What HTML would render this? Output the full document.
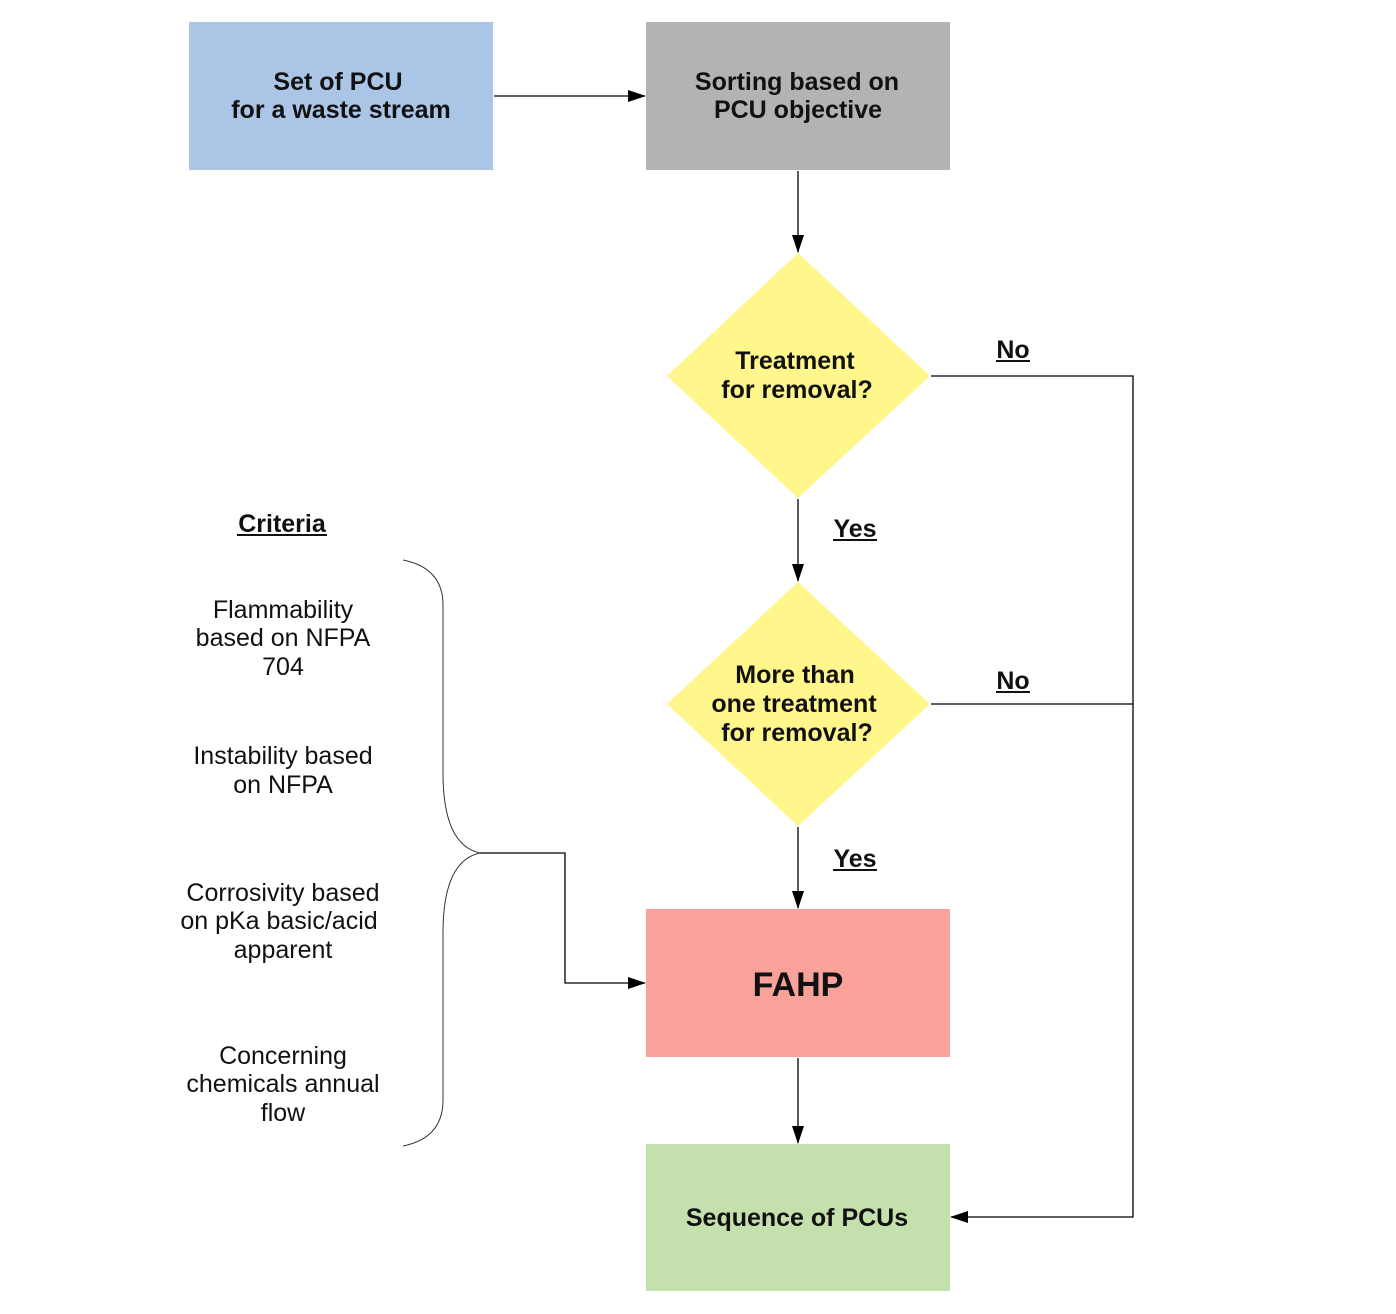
<!DOCTYPE html>
<html><head><meta charset="utf-8"><style>
html,body{margin:0;padding:0;background:#fff;}
svg{display:block;}
text{font-family:"Liberation Sans",Arial,sans-serif;fill:#111;}
.b{font-weight:bold;font-size:25px;}
.r{font-size:25px;}
</style></head><body>
<svg width="1396" height="1314" viewBox="0 0 1396 1314" xmlns="http://www.w3.org/2000/svg">
<defs>
<marker id="a" markerWidth="18" markerHeight="12" refX="17" refY="6" orient="auto" markerUnits="userSpaceOnUse">
<path d="M0,0 L18,6 L0,12 z" fill="#000"/>
</marker>
</defs>
<rect x="189" y="22" width="304" height="148" fill="#abc5e7"/>
<rect x="646" y="22" width="304" height="148" fill="#b3b3b3"/>
<polygon points="798,253 930,376 798,498 667,376" fill="#fff68c"/>
<polygon points="798,582 930,704 798,826 667,704" fill="#fff68c"/>
<rect x="646" y="909" width="304" height="148" fill="#f8a29a"/>
<rect x="646" y="1144" width="304" height="147" fill="#c4e0ad"/>

<g stroke="#000" stroke-width="1.3" fill="none">
<line x1="494" y1="96" x2="645" y2="96" marker-end="url(#a)"/>
<line x1="798" y1="171" x2="798" y2="252" marker-end="url(#a)"/>
<line x1="798" y1="499" x2="798" y2="581" marker-end="url(#a)"/>
<line x1="798" y1="827" x2="798" y2="908" marker-end="url(#a)"/>
<line x1="798" y1="1058" x2="798" y2="1143" marker-end="url(#a)"/>
<polyline points="931,376 1133,376 1133,1217 951,1217" marker-end="url(#a)"/>
<line x1="931" y1="704" x2="1133" y2="704"/>
<polyline points="480,853 565,853 565,983 645,983" marker-end="url(#a)"/>
<path d="M403,560 Q443,568 443,605 L443,773 Q443,845 480,853 Q443,861 443,933 L443,1100 Q443,1138 403,1146" stroke="#333" stroke-width="1"/>
</g>

<text class="b" x="338" y="90" text-anchor="middle">Set of PCU</text>
<text class="b" x="341" y="118" text-anchor="middle">for a waste stream</text>
<text class="b" x="797" y="90" text-anchor="middle">Sorting based on</text>
<text class="b" x="798" y="118" text-anchor="middle">PCU objective</text>
<text class="b" x="795" y="369" text-anchor="middle">Treatment</text>
<text class="b" x="797" y="398" text-anchor="middle">for removal?</text>
<text class="b" x="795" y="683" text-anchor="middle">More than</text>
<text class="b" x="794" y="712" text-anchor="middle">one treatment</text>
<text class="b" x="797" y="741" text-anchor="middle">for removal?</text>
<text x="798" y="996" text-anchor="middle" style="font-weight:bold;font-size:34px">FAHP</text>
<text class="b" x="797" y="1226" text-anchor="middle">Sequence of PCUs</text>

<text class="b" x="1013" y="358" text-anchor="middle">No</text>
<text class="b" x="1013" y="689" text-anchor="middle">No</text>
<text class="b" x="855" y="537" text-anchor="middle">Yes</text>
<text class="b" x="855" y="867" text-anchor="middle">Yes</text>
<text class="b" x="282" y="532" text-anchor="middle">Criteria</text>
<line x1="996" y1="361" x2="1030" y2="361" stroke="#111" stroke-width="2"/>
<line x1="996" y1="692" x2="1030" y2="692" stroke="#111" stroke-width="2"/>
<line x1="833" y1="540" x2="877" y2="540" stroke="#111" stroke-width="2"/>
<line x1="833" y1="870" x2="877" y2="870" stroke="#111" stroke-width="2"/>
<line x1="237" y1="535" x2="327" y2="535" stroke="#111" stroke-width="2"/>

<g text-anchor="middle">
<text class="r" x="283" y="618">Flammability</text>
<text class="r" x="283" y="646">based on NFPA</text>
<text class="r" x="283" y="675">704</text>
<text class="r" x="283" y="764">Instability based</text>
<text class="r" x="283" y="793">on NFPA</text>
<text class="r" x="283" y="901">Corrosivity based</text>
<text class="r" x="279" y="929">on pKa basic/acid</text>
<text class="r" x="283" y="958">apparent</text>
<text class="r" x="283" y="1064">Concerning</text>
<text class="r" x="283" y="1092">chemicals annual</text>
<text class="r" x="283" y="1121">flow</text>
</g>
</svg>
</body></html>
